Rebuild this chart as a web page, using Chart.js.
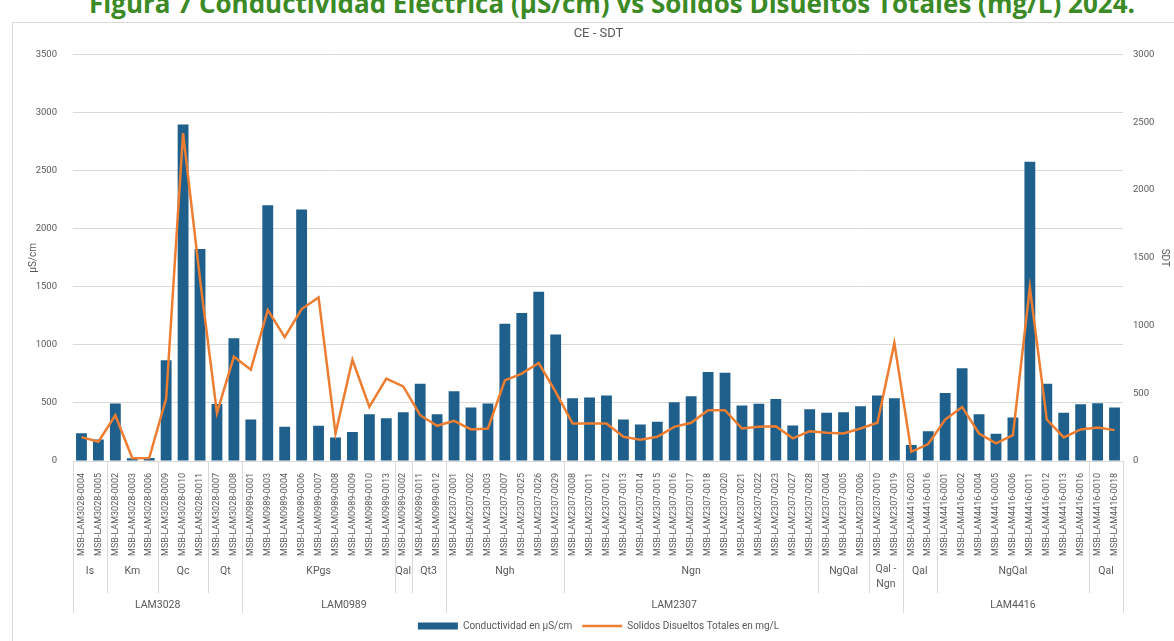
<!DOCTYPE html>
<html lang="es">
<head>
<meta charset="utf-8">
<title>CE - SDT</title>
<script src="https://cdn.jsdelivr.net/npm/chart.js@4.4.1/dist/chart.umd.min.js"></script>
<style>
  html, body { margin: 0; padding: 0; background: #fff; overflow: hidden; }
  body { width: 1174px; height: 641px; position: relative; }
  .figura {
    position: absolute; top: -10px; left: 0; width: 1174px; padding-left: 50px; box-sizing: border-box;
    text-align: center; font: bold 26px/26px "Open Sans", sans-serif; color: #3b8a26; white-space: nowrap;
  }
  .marco { position: absolute; left: 12px; top: 22px; width: 1180px; height: 640px; border: 1px solid #d9d9d9; }
  .lienzo { position: absolute; left: 0; top: 0; width: 1174px; height: 641px; }
</style>
</head>
<body>
<div class="figura">Figura 7 Conductividad Eléctrica (µS/cm) vs Sólidos Disueltos Totales (mg/L) 2024.</div>
<div class="marco"></div>
<div class="lienzo"><canvas id="ceChart" width="1174" height="641"></canvas></div>

<script>
// Muestras (eje X)
const muestras = [
    'MSB-LAM3028-0004', 'MSB-LAM3028-0005', 'MSB-LAM3028-0002', 'MSB-LAM3028-0003', 'MSB-LAM3028-0006',
    'MSB-LAM3028-0009', 'MSB-LAM3028-0010', 'MSB-LAM3028-0011', 'MSB-LAM3028-0007', 'MSB-LAM3028-0008',
    'MSB-LAM0989-0001', 'MSB-LAM0989-0003', 'MSB-LAM0989-0004', 'MSB-LAM0989-0006', 'MSB-LAM0989-0007',
    'MSB-LAM0989-0008', 'MSB-LAM0989-0009', 'MSB-LAM0989-0010', 'MSB-LAM0989-0013', 'MSB-LAM0989-0002',
    'MSB-LAM0989-0011', 'MSB-LAM0989-0012',
    'MSB-LAM2307-0001', 'MSB-LAM2307-0002', 'MSB-LAM2307-0003', 'MSB-LAM2307-0007', 'MSB-LAM2307-0025',
    'MSB-LAM2307-0026', 'MSB-LAM2307-0029', 'MSB-LAM2307-0008', 'MSB-LAM2307-0011', 'MSB-LAM2307-0012',
    'MSB-LAM2307-0013', 'MSB-LAM2307-0014', 'MSB-LAM2307-0015', 'MSB-LAM2307-0016', 'MSB-LAM2307-0017',
    'MSB-LAM2307-0018', 'MSB-LAM2307-0020', 'MSB-LAM2307-0021', 'MSB-LAM2307-0022', 'MSB-LAM2307-0023',
    'MSB-LAM2307-0027', 'MSB-LAM2307-0028', 'MSB-LAM2307-0004', 'MSB-LAM2307-0005', 'MSB-LAM2307-0006',
    'MSB-LAM2307-0010', 'MSB-LAM2307-0019',
    'MSB-LAM4416-0020', 'MSB-LAM4416-0016', 'MSB-LAM4416-0001', 'MSB-LAM4416-0002', 'MSB-LAM4416-0004',
    'MSB-LAM4416-0005', 'MSB-LAM4416-0006', 'MSB-LAM4416-0011', 'MSB-LAM4416-0012', 'MSB-LAM4416-0013',
    'MSB-LAM4416-0016', 'MSB-LAM4416-0010', 'MSB-LAM4416-0018'
];

// Unidad geológica de cada muestra
const unidades = [
    'Is', 'Is', 'Km', 'Km', 'Km', 'Qc', 'Qc', 'Qc', 'Qt', 'Qt',
    'KPgs', 'KPgs', 'KPgs', 'KPgs', 'KPgs', 'KPgs', 'KPgs', 'KPgs', 'KPgs', 'Qal', 'Qt3', 'Qt3',
    'Ngh', 'Ngh', 'Ngh', 'Ngh', 'Ngh', 'Ngh', 'Ngh',
    'Ngn', 'Ngn', 'Ngn', 'Ngn', 'Ngn', 'Ngn', 'Ngn', 'Ngn', 'Ngn', 'Ngn', 'Ngn', 'Ngn', 'Ngn', 'Ngn', 'Ngn',
    'NgQal', 'NgQal', 'NgQal', 'Qal - Ngn', 'Qal - Ngn',
    'Qal', 'Qal', 'NgQal', 'NgQal', 'NgQal', 'NgQal', 'NgQal', 'NgQal', 'NgQal', 'NgQal', 'NgQal', 'Qal', 'Qal'
];

// Plancha de cada muestra
const planchas = [
    'LAM3028', 'LAM3028', 'LAM3028', 'LAM3028', 'LAM3028', 'LAM3028', 'LAM3028', 'LAM3028', 'LAM3028', 'LAM3028',
    'LAM0989', 'LAM0989', 'LAM0989', 'LAM0989', 'LAM0989', 'LAM0989', 'LAM0989', 'LAM0989', 'LAM0989', 'LAM0989',
    'LAM0989', 'LAM0989',
    'LAM2307', 'LAM2307', 'LAM2307', 'LAM2307', 'LAM2307', 'LAM2307', 'LAM2307', 'LAM2307', 'LAM2307', 'LAM2307',
    'LAM2307', 'LAM2307', 'LAM2307', 'LAM2307', 'LAM2307', 'LAM2307', 'LAM2307', 'LAM2307', 'LAM2307', 'LAM2307',
    'LAM2307', 'LAM2307', 'LAM2307', 'LAM2307', 'LAM2307', 'LAM2307', 'LAM2307',
    'LAM4416', 'LAM4416', 'LAM4416', 'LAM4416', 'LAM4416', 'LAM4416', 'LAM4416', 'LAM4416', 'LAM4416', 'LAM4416',
    'LAM4416', 'LAM4416', 'LAM4416'
];

// Conductividad en µS/cm (eje izquierdo)
const conductividad = [
    240, 186, 495, 23, 25, 867, 2897, 1825, 490, 1058,
    357, 2202, 294, 2165, 303, 203, 249, 403, 369, 420, 666, 403,
    600, 460, 495, 1181, 1275, 1458, 1089,
    540, 546, 564, 357, 315, 337, 506, 558, 766, 761, 478, 492, 535, 306, 446,
    415, 420, 472, 564, 540,
    137, 257, 586, 798, 403, 234, 375, 2577, 666, 415, 489, 498, 461
];

// Sólidos disueltos totales en mg/L (eje derecho)
const solidos = [
    176, 142, 338, 20, 22, 461, 2421, 1340, 355, 770,
    674, 1115, 914, 1122, 1208, 203, 747, 399, 608, 551, 338, 260,
    296, 233, 240, 595, 645, 723, 510,
    277, 277, 277, 179, 157, 179, 252, 282, 375, 375, 240, 252, 257, 167, 220,
    208, 203, 240, 282, 870,
    68, 125, 306, 399, 203, 130, 191, 1281, 306, 174, 233, 248, 228
];

const ticksIzq = [0, 500, 1000, 1500, 2000, 2500, 3000, 3500];
const ticksDer = [0, 500, 1000, 1500, 2000, 2500, 3000];

const gris = '#595959';
const lineaGris = '#d9d9d9';

// Agrupa índices consecutivos con la misma clave
function tramos(claves) {
    const out = [];
    claves.forEach((k, i) => {
        const ultimo = out[out.length - 1];
        if (ultimo && ultimo.clave === k) ultimo.fin = i;
        else out.push({ clave: k, inicio: i, fin: i });
    });
    return out;
}

function partirTexto(ctx, texto, ancho) {
    if (ctx.measureText(texto).width <= ancho) return [texto];
    const palabras = texto.split(' ');
    const lineas = [];
    let actual = '';
    palabras.forEach(p => {
        const prueba = actual ? actual + ' ' + p : p;
        if (actual && ctx.measureText(prueba).width > ancho) {
            lineas.push(actual);
            actual = p;
        } else {
            actual = prueba;
        }
    });
    if (actual) lineas.push(actual);
    return lineas;
}

// Eje de categorías de varios niveles (unidad / plancha)
const ejeMultinivel = {
    id: 'ejeMultinivel',
    afterDraw(chart) {
        const x = chart.scales.x;
        const ctx = chart.ctx;
        const paso = x.width / muestras.length;
        const izq = i => x.getPixelForValue(i) - paso / 2;
        const der = i => x.getPixelForValue(i) + paso / 2;
        const top = x.top;

        const subTramos = tramos(unidades.map((u, i) => planchas[i] + '|' + u));
        const mainTramos = tramos(planchas);

        ctx.save();
        ctx.strokeStyle = lineaGris;
        ctx.lineWidth = 1;

        subTramos.forEach(t => {
            const px = Math.round(izq(t.inicio)) + 0.5;
            ctx.beginPath();
            ctx.moveTo(px, top);
            ctx.lineTo(px, 593);
            ctx.stroke();
        });
        mainTramos.forEach(t => {
            const px = Math.round(izq(t.inicio)) + 0.5;
            ctx.beginPath();
            ctx.moveTo(px, top);
            ctx.lineTo(px, 613);
            ctx.stroke();
        });
        const fin = Math.round(der(muestras.length - 1)) + 0.5;
        ctx.beginPath();
        ctx.moveTo(fin, top);
        ctx.lineTo(fin, 613);
        ctx.stroke();

        ctx.fillStyle = gris;
        ctx.textAlign = 'center';
        ctx.textBaseline = 'middle';
        ctx.font = '10.5px Roboto, "Liberation Sans", sans-serif';
        subTramos.forEach(t => {
            const cx = (izq(t.inicio) + der(t.fin)) / 2;
            const texto = t.clave.split('|')[1];
            const lineas = partirTexto(ctx, texto, der(t.fin) - izq(t.inicio) - 4);
            const y0 = lineas.length > 1 ? 569 : 571;
            lineas.forEach((l, j) => ctx.fillText(l, cx, y0 + j * 15));
        });
        mainTramos.forEach(t => {
            const cx = (izq(t.inicio) + der(t.fin)) / 2;
            ctx.fillText(t.clave, cx, 605);
        });
        ctx.restore();
    }
};

Chart.defaults.font.family = 'Roboto, "Liberation Sans", sans-serif';
Chart.defaults.color = gris;

document.addEventListener('DOMContentLoaded', function() {
    const ctx = document.getElementById('ceChart').getContext('2d');
    new Chart(ctx, {
        type: 'bar',
        data: {
            labels: muestras,
            datasets: [{
                type: 'bar',
                label: 'Conductividad en µS/cm',
                data: conductividad,
                backgroundColor: '#1f5f8b',
                borderWidth: 0,
                yAxisID: 'y',
                categoryPercentage: 1,
                barPercentage: 0.64,
                pointStyle: 'rect',
                order: 2
            }, {
                type: 'line',
                label: 'Solidos Disueltos Totales en mg/L',
                data: solidos,
                borderColor: '#ed7d31',
                backgroundColor: '#ed7d31',
                borderWidth: 2.5,
                pointRadius: 0,
                pointHoverRadius: 0,
                pointStyle: 'line',
                tension: 0,
                yAxisID: 'y1',
                order: 1
            }]
        },
        options: {
            responsive: false,
            animation: false,
            layout: {
                padding: { top: 16, left: 23, right: 0, bottom: 0 }
            },
            plugins: {
                title: {
                    display: true,
                    text: 'CE - SDT',
                    color: gris,
                    font: { size: 13, weight: 'normal' },
                    padding: { top: 10, bottom: 13 }
                },
                legend: {
                    position: 'bottom',
                    labels: {
                        usePointStyle: true,
                        pointStyleWidth: 40,
                        boxHeight: 7,
                        color: gris,
                        font: { size: 10 },
                        padding: 10,
                        sort: (a, b) => a.datasetIndex - b.datasetIndex
                    }
                },
                tooltip: { enabled: false }
            },
            scales: {
                x: {
                    grid: { display: false },
                    border: { color: lineaGris },
                    ticks: {
                        autoSkip: false,
                        maxRotation: 90,
                        minRotation: 90,
                        color: gris,
                        font: { size: 9 },
                        padding: 4
                    },
                    afterFit: function(scale) { scale.height = 150; }
                },
                y: {
                    position: 'left',
                    min: 0,
                    max: 3500,
                    afterBuildTicks: function(scale) { scale.ticks = ticksIzq.map(v => ({ value: v })); },
                    grid: { color: lineaGris, drawTicks: false },
                    border: { display: false },
                    ticks: { color: gris, font: { size: 9.5 }, padding: 16, callback: v => String(v) },
                    title: { display: true, text: 'µS/cm', color: gris, font: { size: 10 } },
                    afterFit: function(scale) { scale.width = 50; }
                },
                y1: {
                    position: 'right',
                    min: 0,
                    max: 3000,
                    afterBuildTicks: function(scale) { scale.ticks = ticksDer.map(v => ({ value: v })); },
                    grid: { display: false, drawTicks: false },
                    border: { display: false },
                    ticks: { color: gris, font: { size: 9.5 }, padding: 10, callback: v => String(v) },
                    title: { display: true, text: 'SDT', color: gris, font: { size: 10 } },
                    afterFit: function(scale) { scale.width = 51; }
                }
            }
        },
        plugins: [ejeMultinivel]
    });
});
</script>
</body>
</html>
